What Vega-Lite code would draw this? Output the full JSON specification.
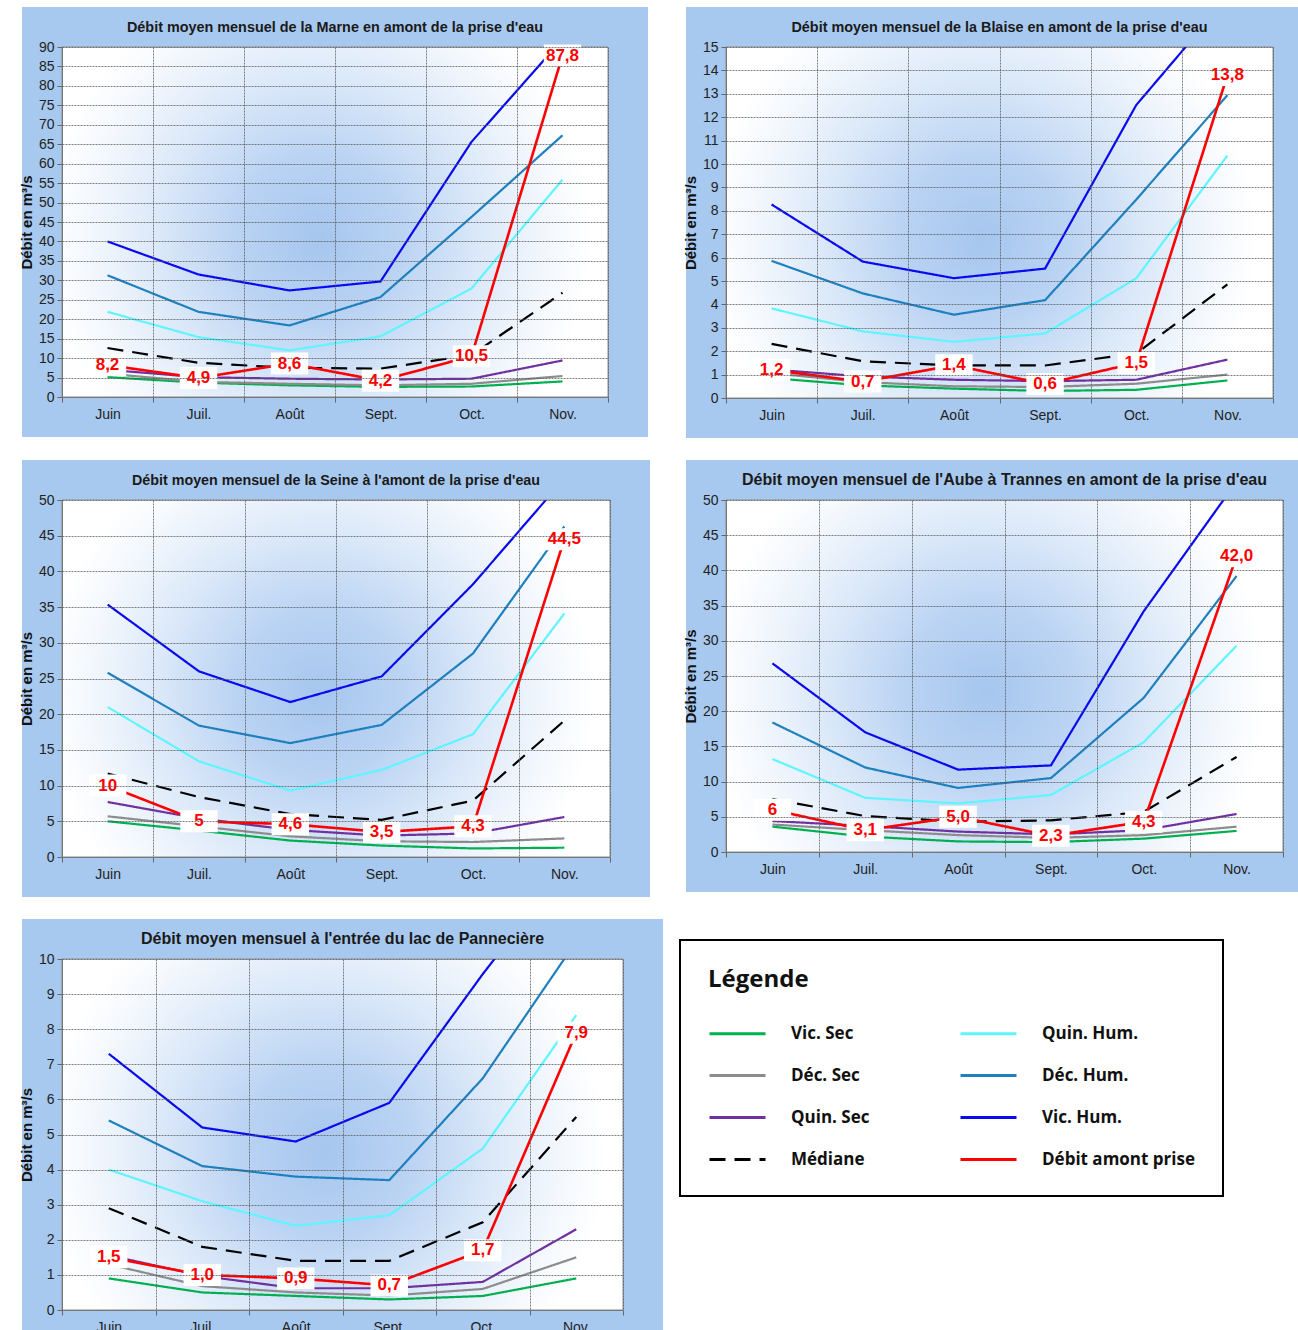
{
"$schema": "https://vega.github.io/schema/vega-lite/v6.json",
"background": "white",
"padding": {"left": -21, "top": -21, "right": 0, "bottom": 0},
"datasets": {
"marne": [
{"m":"Juin","s":"Vic. Sec","v":5.1},{"m":"Juil.","s":"Vic. Sec","v":3.7},{"m":"Août","s":"Vic. Sec","v":3.0},{"m":"Sept.","s":"Vic. Sec","v":2.6},{"m":"Oct.","s":"Vic. Sec","v":2.7},{"m":"Nov.","s":"Vic. Sec","v":4.0},
{"m":"Juin","s":"Déc. Sec","v":6.0},{"m":"Juil.","s":"Déc. Sec","v":3.9},{"m":"Août","s":"Déc. Sec","v":3.4},{"m":"Sept.","s":"Déc. Sec","v":3.0},{"m":"Oct.","s":"Déc. Sec","v":3.4},{"m":"Nov.","s":"Déc. Sec","v":5.4},
{"m":"Juin","s":"Quin. Sec","v":7.0},{"m":"Juil.","s":"Quin. Sec","v":5.1},{"m":"Août","s":"Quin. Sec","v":4.7},{"m":"Sept.","s":"Quin. Sec","v":4.5},{"m":"Oct.","s":"Quin. Sec","v":4.7},{"m":"Nov.","s":"Quin. Sec","v":9.4},
{"m":"Juin","s":"Médiane","v":12.6},{"m":"Juil.","s":"Médiane","v":8.8},{"m":"Août","s":"Médiane","v":7.5},{"m":"Sept.","s":"Médiane","v":7.3},{"m":"Oct.","s":"Médiane","v":10.8},{"m":"Nov.","s":"Médiane","v":26.8},
{"m":"Juin","s":"Quin. Hum.","v":21.9},{"m":"Juil.","s":"Quin. Hum.","v":15.4},{"m":"Août","s":"Quin. Hum.","v":12.0},{"m":"Sept.","s":"Quin. Hum.","v":15.6},{"m":"Oct.","s":"Quin. Hum.","v":27.9},{"m":"Nov.","s":"Quin. Hum.","v":55.9},
{"m":"Juin","s":"Déc. Hum.","v":31.3},{"m":"Juil.","s":"Déc. Hum.","v":21.9},{"m":"Août","s":"Déc. Hum.","v":18.4},{"m":"Sept.","s":"Déc. Hum.","v":25.7},{"m":"Oct.","s":"Déc. Hum.","v":46.3},{"m":"Nov.","s":"Déc. Hum.","v":67.3},
{"m":"Juin","s":"Vic. Hum.","v":40.0},{"m":"Juil.","s":"Vic. Hum.","v":31.5},{"m":"Août","s":"Vic. Hum.","v":27.4},{"m":"Sept.","s":"Vic. Hum.","v":29.7},{"m":"Oct.","s":"Vic. Hum.","v":65.6},{"m":"Nov.","s":"Vic. Hum.","v":92},
{"m":"Juin","s":"Débit amont prise","v":8.2,"lab":"8,2"},{"m":"Juil.","s":"Débit amont prise","v":4.9,"lab":"4,9"},{"m":"Août","s":"Débit amont prise","v":8.6,"lab":"8,6"},{"m":"Sept.","s":"Débit amont prise","v":4.2,"lab":"4,2"},{"m":"Oct.","s":"Débit amont prise","v":10.5,"lab":"10,5"},{"m":"Nov.","s":"Débit amont prise","v":87.8,"lab":"87,8"}
],
"blaise": [
{"m":"Juin","s":"Vic. Sec","v":0.85},{"m":"Juil.","s":"Vic. Sec","v":0.54},{"m":"Août","s":"Vic. Sec","v":0.40},{"m":"Sept.","s":"Vic. Sec","v":0.30},{"m":"Oct.","s":"Vic. Sec","v":0.35},{"m":"Nov.","s":"Vic. Sec","v":0.75},
{"m":"Juin","s":"Déc. Sec","v":1.06},{"m":"Juil.","s":"Déc. Sec","v":0.68},{"m":"Août","s":"Déc. Sec","v":0.50},{"m":"Sept.","s":"Déc. Sec","v":0.47},{"m":"Oct.","s":"Déc. Sec","v":0.61},{"m":"Nov.","s":"Déc. Sec","v":1.0},
{"m":"Juin","s":"Quin. Sec","v":1.22},{"m":"Juil.","s":"Quin. Sec","v":0.92},{"m":"Août","s":"Quin. Sec","v":0.78},{"m":"Sept.","s":"Quin. Sec","v":0.72},{"m":"Oct.","s":"Quin. Sec","v":0.78},{"m":"Nov.","s":"Quin. Sec","v":1.64},
{"m":"Juin","s":"Médiane","v":2.31},{"m":"Juil.","s":"Médiane","v":1.57},{"m":"Août","s":"Médiane","v":1.39},{"m":"Sept.","s":"Médiane","v":1.39},{"m":"Oct.","s":"Médiane","v":1.9},{"m":"Nov.","s":"Médiane","v":4.86},
{"m":"Juin","s":"Quin. Hum.","v":3.83},{"m":"Juil.","s":"Quin. Hum.","v":2.85},{"m":"Août","s":"Quin. Hum.","v":2.40},{"m":"Sept.","s":"Quin. Hum.","v":2.76},{"m":"Oct.","s":"Quin. Hum.","v":5.12},{"m":"Nov.","s":"Quin. Hum.","v":10.36},
{"m":"Juin","s":"Déc. Hum.","v":5.86},{"m":"Juil.","s":"Déc. Hum.","v":4.47},{"m":"Août","s":"Déc. Hum.","v":3.56},{"m":"Sept.","s":"Déc. Hum.","v":4.18},{"m":"Oct.","s":"Déc. Hum.","v":8.48},{"m":"Nov.","s":"Déc. Hum.","v":12.94},
{"m":"Juin","s":"Vic. Hum.","v":8.27},{"m":"Juil.","s":"Vic. Hum.","v":5.83},{"m":"Août","s":"Vic. Hum.","v":5.12},{"m":"Sept.","s":"Vic. Hum.","v":5.53},{"m":"Oct.","s":"Vic. Hum.","v":12.52},{"m":"Nov.","s":"Vic. Hum.","v":17.1},
{"m":"Juin","s":"Débit amont prise","v":1.2,"lab":"1,2"},{"m":"Juil.","s":"Débit amont prise","v":0.7,"lab":"0,7"},{"m":"Août","s":"Débit amont prise","v":1.4,"lab":"1,4"},{"m":"Sept.","s":"Débit amont prise","v":0.6,"lab":"0,6"},{"m":"Oct.","s":"Débit amont prise","v":1.5,"lab":"1,5"},{"m":"Nov.","s":"Débit amont prise","v":13.8,"lab":"13,8"}
],
"seine": [
{"m":"Juin","s":"Vic. Sec","v":5.0},{"m":"Juil.","s":"Vic. Sec","v":3.7},{"m":"Août","s":"Vic. Sec","v":2.3},{"m":"Sept.","s":"Vic. Sec","v":1.6},{"m":"Oct.","s":"Vic. Sec","v":1.2},{"m":"Nov.","s":"Vic. Sec","v":1.3},
{"m":"Juin","s":"Déc. Sec","v":5.7},{"m":"Juil.","s":"Déc. Sec","v":4.3},{"m":"Août","s":"Déc. Sec","v":2.9},{"m":"Sept.","s":"Déc. Sec","v":2.2},{"m":"Oct.","s":"Déc. Sec","v":2.1},{"m":"Nov.","s":"Déc. Sec","v":2.6},
{"m":"Juin","s":"Quin. Sec","v":7.7},{"m":"Juil.","s":"Quin. Sec","v":5.4},{"m":"Août","s":"Quin. Sec","v":3.8},{"m":"Sept.","s":"Quin. Sec","v":3.0},{"m":"Oct.","s":"Quin. Sec","v":3.3},{"m":"Nov.","s":"Quin. Sec","v":5.6},
{"m":"Juin","s":"Médiane","v":11.7},{"m":"Juil.","s":"Médiane","v":8.4},{"m":"Août","s":"Médiane","v":6.0},{"m":"Sept.","s":"Médiane","v":5.2},{"m":"Oct.","s":"Médiane","v":7.9},{"m":"Nov.","s":"Médiane","v":19.1},
{"m":"Juin","s":"Quin. Hum.","v":21.0},{"m":"Juil.","s":"Quin. Hum.","v":13.4},{"m":"Août","s":"Quin. Hum.","v":9.3},{"m":"Sept.","s":"Quin. Hum.","v":12.2},{"m":"Oct.","s":"Quin. Hum.","v":17.2},{"m":"Nov.","s":"Quin. Hum.","v":34.1},
{"m":"Juin","s":"Déc. Hum.","v":25.8},{"m":"Juil.","s":"Déc. Hum.","v":18.4},{"m":"Août","s":"Déc. Hum.","v":15.95},{"m":"Sept.","s":"Déc. Hum.","v":18.5},{"m":"Oct.","s":"Déc. Hum.","v":28.5},{"m":"Nov.","s":"Déc. Hum.","v":46.3},
{"m":"Juin","s":"Vic. Hum.","v":35.35},{"m":"Juil.","s":"Vic. Hum.","v":26.0},{"m":"Août","s":"Vic. Hum.","v":21.7},{"m":"Sept.","s":"Vic. Hum.","v":25.3},{"m":"Oct.","s":"Vic. Hum.","v":38.2},{"m":"Nov.","s":"Vic. Hum.","v":53},
{"m":"Juin","s":"Débit amont prise","v":10,"lab":"10"},{"m":"Juil.","s":"Débit amont prise","v":5,"lab":"5"},{"m":"Août","s":"Débit amont prise","v":4.6,"lab":"4,6"},{"m":"Sept.","s":"Débit amont prise","v":3.5,"lab":"3,5"},{"m":"Oct.","s":"Débit amont prise","v":4.3,"lab":"4,3"},{"m":"Nov.","s":"Débit amont prise","v":44.5,"lab":"44,5"}
],
"aube": [
{"m":"Juin","s":"Vic. Sec","v":3.6},{"m":"Juil.","s":"Vic. Sec","v":2.2},{"m":"Août","s":"Vic. Sec","v":1.5},{"m":"Sept.","s":"Vic. Sec","v":1.4},{"m":"Oct.","s":"Vic. Sec","v":1.9},{"m":"Nov.","s":"Vic. Sec","v":3.0},
{"m":"Juin","s":"Déc. Sec","v":3.9},{"m":"Juil.","s":"Déc. Sec","v":3.1},{"m":"Août","s":"Déc. Sec","v":2.4},{"m":"Sept.","s":"Déc. Sec","v":2.0},{"m":"Oct.","s":"Déc. Sec","v":2.4},{"m":"Nov.","s":"Déc. Sec","v":3.6},
{"m":"Juin","s":"Quin. Sec","v":4.4},{"m":"Juil.","s":"Quin. Sec","v":3.7},{"m":"Août","s":"Quin. Sec","v":2.9},{"m":"Sept.","s":"Quin. Sec","v":2.5},{"m":"Oct.","s":"Quin. Sec","v":3.1},{"m":"Nov.","s":"Quin. Sec","v":5.4},
{"m":"Juin","s":"Médiane","v":7.5},{"m":"Juil.","s":"Médiane","v":5.1},{"m":"Août","s":"Médiane","v":4.3},{"m":"Sept.","s":"Médiane","v":4.5},{"m":"Oct.","s":"Médiane","v":5.7},{"m":"Nov.","s":"Médiane","v":13.5},
{"m":"Juin","s":"Quin. Hum.","v":13.2},{"m":"Juil.","s":"Quin. Hum.","v":7.7},{"m":"Août","s":"Quin. Hum.","v":6.9},{"m":"Sept.","s":"Quin. Hum.","v":8.1},{"m":"Oct.","s":"Quin. Hum.","v":15.6},{"m":"Nov.","s":"Quin. Hum.","v":29.3},
{"m":"Juin","s":"Déc. Hum.","v":18.4},{"m":"Juil.","s":"Déc. Hum.","v":12.0},{"m":"Août","s":"Déc. Hum.","v":9.1},{"m":"Sept.","s":"Déc. Hum.","v":10.5},{"m":"Oct.","s":"Déc. Hum.","v":21.9},{"m":"Nov.","s":"Déc. Hum.","v":39.2},
{"m":"Juin","s":"Vic. Hum.","v":26.8},{"m":"Juil.","s":"Vic. Hum.","v":17.0},{"m":"Août","s":"Vic. Hum.","v":11.7},{"m":"Sept.","s":"Vic. Hum.","v":12.3},{"m":"Oct.","s":"Vic. Hum.","v":34.2},{"m":"Nov.","s":"Vic. Hum.","v":52.6},
{"m":"Juin","s":"Débit amont prise","v":6,"lab":"6"},{"m":"Juil.","s":"Débit amont prise","v":3.1,"lab":"3,1"},{"m":"Août","s":"Débit amont prise","v":5.0,"lab":"5,0"},{"m":"Sept.","s":"Débit amont prise","v":2.3,"lab":"2,3"},{"m":"Oct.","s":"Débit amont prise","v":4.3,"lab":"4,3"},{"m":"Nov.","s":"Débit amont prise","v":42.0,"lab":"42,0"}
],
"pan": [
{"m":"Juin","s":"Vic. Sec","v":0.9},{"m":"Juil.","s":"Vic. Sec","v":0.5},{"m":"Août","s":"Vic. Sec","v":0.4},{"m":"Sept.","s":"Vic. Sec","v":0.3},{"m":"Oct.","s":"Vic. Sec","v":0.4},{"m":"Nov.","s":"Vic. Sec","v":0.9},
{"m":"Juin","s":"Déc. Sec","v":1.3},{"m":"Juil.","s":"Déc. Sec","v":0.68},{"m":"Août","s":"Déc. Sec","v":0.5},{"m":"Sept.","s":"Déc. Sec","v":0.41},{"m":"Oct.","s":"Déc. Sec","v":0.6},{"m":"Nov.","s":"Déc. Sec","v":1.5},
{"m":"Juin","s":"Quin. Sec","v":1.56},{"m":"Juil.","s":"Quin. Sec","v":0.97},{"m":"Août","s":"Quin. Sec","v":0.62},{"m":"Sept.","s":"Quin. Sec","v":0.62},{"m":"Oct.","s":"Quin. Sec","v":0.8},{"m":"Nov.","s":"Quin. Sec","v":2.3},
{"m":"Juin","s":"Médiane","v":2.9},{"m":"Juil.","s":"Médiane","v":1.8},{"m":"Août","s":"Médiane","v":1.4},{"m":"Sept.","s":"Médiane","v":1.4},{"m":"Oct.","s":"Médiane","v":2.5},{"m":"Nov.","s":"Médiane","v":5.5},
{"m":"Juin","s":"Quin. Hum.","v":4.0},{"m":"Juil.","s":"Quin. Hum.","v":3.1},{"m":"Août","s":"Quin. Hum.","v":2.4},{"m":"Sept.","s":"Quin. Hum.","v":2.7},{"m":"Oct.","s":"Quin. Hum.","v":4.6},{"m":"Nov.","s":"Quin. Hum.","v":8.4},
{"m":"Juin","s":"Déc. Hum.","v":5.4},{"m":"Juil.","s":"Déc. Hum.","v":4.1},{"m":"Août","s":"Déc. Hum.","v":3.8},{"m":"Sept.","s":"Déc. Hum.","v":3.7},{"m":"Oct.","s":"Déc. Hum.","v":6.6},{"m":"Nov.","s":"Déc. Hum.","v":10.5},
{"m":"Juin","s":"Vic. Hum.","v":7.3},{"m":"Juil.","s":"Vic. Hum.","v":5.2},{"m":"Août","s":"Vic. Hum.","v":4.8},{"m":"Sept.","s":"Vic. Hum.","v":5.9},{"m":"Oct.","s":"Vic. Hum.","v":9.57},{"m":"Nov.","s":"Vic. Hum.","v":13},
{"m":"Juin","s":"Débit amont prise","v":1.5,"lab":"1,5"},{"m":"Juil.","s":"Débit amont prise","v":1.0,"lab":"1,0"},{"m":"Août","s":"Débit amont prise","v":0.9,"lab":"0,9"},{"m":"Sept.","s":"Débit amont prise","v":0.7,"lab":"0,7"},{"m":"Oct.","s":"Débit amont prise","v":1.7,"lab":"1,7"},{"m":"Nov.","s":"Débit amont prise","v":7.9,"lab":"7,9"}
]
},
"columns": 2,
"bounds": "flush",
"align": "each",
"spacing": {"row": 102, "column": 103},
"concat": [
{
"width": 546, "height": 350,
"title": {"text": "Débit moyen mensuel de la Marne en amont de la prise d'eau", "fontSize": 14.4},
"layer": [
{"data": {"values": [{}]}, "mark": {"type": "rect", "stroke": "#8a8a8a", "strokeWidth": 1, "fill": {"gradient": "radial", "x1": 0.47, "y1": 0.53, "r1": 0, "x2": 0.47, "y2": 0.53, "r2": 0.5, "stops": [{"offset": 0, "color": "#a6c6ee"}, {"offset": 0.3, "color": "#bad3f3"}, {"offset": 0.6, "color": "#dce9f9"}, {"offset": 0.85, "color": "#f4f8fd"}, {"offset": 1, "color": "#ffffff"}]}}, "encoding": {}},
{"data": {"name": "marne"},
"encoding": {
"x": {"field": "m", "type": "ordinal", "sort": ["Juin","Juil.","Août","Sept.","Oct.","Nov."], "scale": {"type": "band", "paddingInner": 0, "paddingOuter": 0}, "axis": {"title": null, "tickBand": "extent", "grid": true, "labelAngle": 0, "zindex": 1}},
"y": {"field": "v", "type": "quantitative", "scale": {"domain": [0, 90], "nice": false}, "axis": {"title": "Débit en m³/s", "zindex": 1, "values": [0,5,10,15,20,25,30,35,40,45,50,55,60,65,70,75,80,85,90]}}
},
"layer": [
{"transform": [{"filter": "datum.s !== 'Débit amont prise'"}], "mark": {"type": "line", "clip": true, "strokeWidth": 2.2},
"encoding": {"color": {"field": "s", "type": "nominal", "title": "Légende", "scale": {"domain": ["Vic. Sec","Déc. Sec","Quin. Sec","Médiane","Quin. Hum.","Déc. Hum.","Vic. Hum.","Débit amont prise"], "range": ["#00b050","#8c8c8c","#7030a0","#000000","#5ff5ff","#1f80c0","#0a0af0","#ff0000"]}},
"strokeDash": {"field": "s", "type": "nominal", "title": "Légende", "scale": {"domain": ["Vic. Sec","Déc. Sec","Quin. Sec","Médiane","Quin. Hum.","Déc. Hum.","Vic. Hum.","Débit amont prise"], "range": [[1,0],[1,0],[1,0],[16,9],[1,0],[1,0],[1,0],[1,0]]}}}},
{"transform": [{"filter": "datum.s === 'Débit amont prise'"}], "mark": {"type": "line", "clip": true, "strokeWidth": 2.6},
"encoding": {"color": {"field": "s", "type": "nominal", "title": "Légende", "scale": {"domain": ["Vic. Sec","Déc. Sec","Quin. Sec","Médiane","Quin. Hum.","Déc. Hum.","Vic. Hum.","Débit amont prise"], "range": ["#00b050","#8c8c8c","#7030a0","#000000","#5ff5ff","#1f80c0","#0a0af0","#ff0000"]}},
"strokeDash": {"field": "s", "type": "nominal", "title": "Légende", "scale": {"domain": ["Vic. Sec","Déc. Sec","Quin. Sec","Médiane","Quin. Hum.","Déc. Hum.","Vic. Hum.","Débit amont prise"], "range": [[1,0],[1,0],[1,0],[16,9],[1,0],[1,0],[1,0],[1,0]]}}}},
{"transform": [{"filter": "datum.s === 'Débit amont prise'"}], "mark": {"type": "point", "shape": "M-1.7,-1H1.7V1H-1.7Z", "filled": true, "fill": "white", "opacity": 1, "size": 484, "strokeWidth": 0}},
{"transform": [{"filter": "datum.s === 'Débit amont prise'"}], "mark": {"type": "text", "font": "Liberation Sans", "fontSize": 17, "fontWeight": "bold", "color": "#ff0000"}, "encoding": {"text": {"field": "lab"}}}
]}
]
},
{
"width": 547, "height": 351,
"title": {"text": "Débit moyen mensuel de la Blaise en amont de la prise d'eau", "fontSize": 14.4},
"layer": [
{"data": {"values": [{}]}, "mark": {"type": "rect", "stroke": "#8a8a8a", "strokeWidth": 1, "fill": {"gradient": "radial", "x1": 0.47, "y1": 0.53, "r1": 0, "x2": 0.47, "y2": 0.53, "r2": 0.5, "stops": [{"offset": 0, "color": "#a6c6ee"}, {"offset": 0.3, "color": "#bad3f3"}, {"offset": 0.6, "color": "#dce9f9"}, {"offset": 0.85, "color": "#f4f8fd"}, {"offset": 1, "color": "#ffffff"}]}}, "encoding": {}},
{"data": {"name": "blaise"},
"encoding": {
"x": {"field": "m", "type": "ordinal", "sort": ["Juin","Juil.","Août","Sept.","Oct.","Nov."], "scale": {"type": "band", "paddingInner": 0, "paddingOuter": 0}, "axis": {"title": null, "tickBand": "extent", "grid": true, "labelAngle": 0, "zindex": 1}},
"y": {"field": "v", "type": "quantitative", "scale": {"domain": [0, 15], "nice": false}, "axis": {"title": "Débit en m³/s", "zindex": 1, "values": [0,1,2,3,4,5,6,7,8,9,10,11,12,13,14,15]}}
},
"layer": [
{"transform": [{"filter": "datum.s !== 'Débit amont prise'"}], "mark": {"type": "line", "clip": true, "strokeWidth": 2.2},
"encoding": {"color": {"field": "s", "type": "nominal", "title": "Légende", "scale": {"domain": ["Vic. Sec","Déc. Sec","Quin. Sec","Médiane","Quin. Hum.","Déc. Hum.","Vic. Hum.","Débit amont prise"], "range": ["#00b050","#8c8c8c","#7030a0","#000000","#5ff5ff","#1f80c0","#0a0af0","#ff0000"]}},
"strokeDash": {"field": "s", "type": "nominal", "title": "Légende", "scale": {"domain": ["Vic. Sec","Déc. Sec","Quin. Sec","Médiane","Quin. Hum.","Déc. Hum.","Vic. Hum.","Débit amont prise"], "range": [[1,0],[1,0],[1,0],[16,9],[1,0],[1,0],[1,0],[1,0]]}}}},
{"transform": [{"filter": "datum.s === 'Débit amont prise'"}], "mark": {"type": "line", "clip": true, "strokeWidth": 2.6},
"encoding": {"color": {"field": "s", "type": "nominal", "title": "Légende", "scale": {"domain": ["Vic. Sec","Déc. Sec","Quin. Sec","Médiane","Quin. Hum.","Déc. Hum.","Vic. Hum.","Débit amont prise"], "range": ["#00b050","#8c8c8c","#7030a0","#000000","#5ff5ff","#1f80c0","#0a0af0","#ff0000"]}},
"strokeDash": {"field": "s", "type": "nominal", "title": "Légende", "scale": {"domain": ["Vic. Sec","Déc. Sec","Quin. Sec","Médiane","Quin. Hum.","Déc. Hum.","Vic. Hum.","Débit amont prise"], "range": [[1,0],[1,0],[1,0],[16,9],[1,0],[1,0],[1,0],[1,0]]}}}},
{"transform": [{"filter": "datum.s === 'Débit amont prise'"}], "mark": {"type": "point", "shape": "M-1.7,-1H1.7V1H-1.7Z", "filled": true, "fill": "white", "opacity": 1, "size": 484, "strokeWidth": 0}},
{"transform": [{"filter": "datum.s === 'Débit amont prise'"}], "mark": {"type": "text", "font": "Liberation Sans", "fontSize": 17, "fontWeight": "bold", "color": "#ff0000"}, "encoding": {"text": {"field": "lab"}}}
]}
]
},
{
"width": 548, "height": 357,
"title": {"text": "Débit moyen mensuel de la Seine à l'amont de la prise d'eau", "fontSize": 14.3},
"layer": [
{"data": {"values": [{}]}, "mark": {"type": "rect", "stroke": "#8a8a8a", "strokeWidth": 1, "fill": {"gradient": "radial", "x1": 0.47, "y1": 0.53, "r1": 0, "x2": 0.47, "y2": 0.53, "r2": 0.5, "stops": [{"offset": 0, "color": "#a6c6ee"}, {"offset": 0.3, "color": "#bad3f3"}, {"offset": 0.6, "color": "#dce9f9"}, {"offset": 0.85, "color": "#f4f8fd"}, {"offset": 1, "color": "#ffffff"}]}}, "encoding": {}},
{"data": {"name": "seine"},
"encoding": {
"x": {"field": "m", "type": "ordinal", "sort": ["Juin","Juil.","Août","Sept.","Oct.","Nov."], "scale": {"type": "band", "paddingInner": 0, "paddingOuter": 0}, "axis": {"title": null, "tickBand": "extent", "grid": true, "labelAngle": 0, "zindex": 1}},
"y": {"field": "v", "type": "quantitative", "scale": {"domain": [0, 50], "nice": false}, "axis": {"title": "Débit en m³/s", "zindex": 1, "values": [0,5,10,15,20,25,30,35,40,45,50]}}
},
"layer": [
{"transform": [{"filter": "datum.s !== 'Débit amont prise'"}], "mark": {"type": "line", "clip": true, "strokeWidth": 2.2},
"encoding": {"color": {"field": "s", "type": "nominal", "title": "Légende", "scale": {"domain": ["Vic. Sec","Déc. Sec","Quin. Sec","Médiane","Quin. Hum.","Déc. Hum.","Vic. Hum.","Débit amont prise"], "range": ["#00b050","#8c8c8c","#7030a0","#000000","#5ff5ff","#1f80c0","#0a0af0","#ff0000"]}},
"strokeDash": {"field": "s", "type": "nominal", "title": "Légende", "scale": {"domain": ["Vic. Sec","Déc. Sec","Quin. Sec","Médiane","Quin. Hum.","Déc. Hum.","Vic. Hum.","Débit amont prise"], "range": [[1,0],[1,0],[1,0],[16,9],[1,0],[1,0],[1,0],[1,0]]}}}},
{"transform": [{"filter": "datum.s === 'Débit amont prise'"}], "mark": {"type": "line", "clip": true, "strokeWidth": 2.6},
"encoding": {"color": {"field": "s", "type": "nominal", "title": "Légende", "scale": {"domain": ["Vic. Sec","Déc. Sec","Quin. Sec","Médiane","Quin. Hum.","Déc. Hum.","Vic. Hum.","Débit amont prise"], "range": ["#00b050","#8c8c8c","#7030a0","#000000","#5ff5ff","#1f80c0","#0a0af0","#ff0000"]}},
"strokeDash": {"field": "s", "type": "nominal", "title": "Légende", "scale": {"domain": ["Vic. Sec","Déc. Sec","Quin. Sec","Médiane","Quin. Hum.","Déc. Hum.","Vic. Hum.","Débit amont prise"], "range": [[1,0],[1,0],[1,0],[16,9],[1,0],[1,0],[1,0],[1,0]]}}}},
{"transform": [{"filter": "datum.s === 'Débit amont prise'"}], "mark": {"type": "point", "shape": "M-1.7,-1H1.7V1H-1.7Z", "filled": true, "fill": "white", "opacity": 1, "size": 484, "strokeWidth": 0}},
{"transform": [{"filter": "datum.s === 'Débit amont prise'"}], "mark": {"type": "text", "font": "Liberation Sans", "fontSize": 17, "fontWeight": "bold", "color": "#ff0000"}, "encoding": {"text": {"field": "lab"}}}
]}
]
},
{
"width": 557, "height": 352,
"title": {"text": "Débit moyen mensuel  de l'Aube à Trannes en amont de la prise d'eau", "fontSize": 16},
"layer": [
{"data": {"values": [{}]}, "mark": {"type": "rect", "stroke": "#8a8a8a", "strokeWidth": 1, "fill": {"gradient": "radial", "x1": 0.47, "y1": 0.53, "r1": 0, "x2": 0.47, "y2": 0.53, "r2": 0.5, "stops": [{"offset": 0, "color": "#a6c6ee"}, {"offset": 0.3, "color": "#bad3f3"}, {"offset": 0.6, "color": "#dce9f9"}, {"offset": 0.85, "color": "#f4f8fd"}, {"offset": 1, "color": "#ffffff"}]}}, "encoding": {}},
{"data": {"name": "aube"},
"encoding": {
"x": {"field": "m", "type": "ordinal", "sort": ["Juin","Juil.","Août","Sept.","Oct.","Nov."], "scale": {"type": "band", "paddingInner": 0, "paddingOuter": 0}, "axis": {"title": null, "tickBand": "extent", "grid": true, "labelAngle": 0, "zindex": 1}},
"y": {"field": "v", "type": "quantitative", "scale": {"domain": [0, 50], "nice": false}, "axis": {"title": "Débit en m³/s", "zindex": 1, "values": [0,5,10,15,20,25,30,35,40,45,50]}}
},
"layer": [
{"transform": [{"filter": "datum.s !== 'Débit amont prise'"}], "mark": {"type": "line", "clip": true, "strokeWidth": 2.2},
"encoding": {"color": {"field": "s", "type": "nominal", "title": "Légende", "scale": {"domain": ["Vic. Sec","Déc. Sec","Quin. Sec","Médiane","Quin. Hum.","Déc. Hum.","Vic. Hum.","Débit amont prise"], "range": ["#00b050","#8c8c8c","#7030a0","#000000","#5ff5ff","#1f80c0","#0a0af0","#ff0000"]}},
"strokeDash": {"field": "s", "type": "nominal", "title": "Légende", "scale": {"domain": ["Vic. Sec","Déc. Sec","Quin. Sec","Médiane","Quin. Hum.","Déc. Hum.","Vic. Hum.","Débit amont prise"], "range": [[1,0],[1,0],[1,0],[16,9],[1,0],[1,0],[1,0],[1,0]]}}}},
{"transform": [{"filter": "datum.s === 'Débit amont prise'"}], "mark": {"type": "line", "clip": true, "strokeWidth": 2.6},
"encoding": {"color": {"field": "s", "type": "nominal", "title": "Légende", "scale": {"domain": ["Vic. Sec","Déc. Sec","Quin. Sec","Médiane","Quin. Hum.","Déc. Hum.","Vic. Hum.","Débit amont prise"], "range": ["#00b050","#8c8c8c","#7030a0","#000000","#5ff5ff","#1f80c0","#0a0af0","#ff0000"]}},
"strokeDash": {"field": "s", "type": "nominal", "title": "Légende", "scale": {"domain": ["Vic. Sec","Déc. Sec","Quin. Sec","Médiane","Quin. Hum.","Déc. Hum.","Vic. Hum.","Débit amont prise"], "range": [[1,0],[1,0],[1,0],[16,9],[1,0],[1,0],[1,0],[1,0]]}}}},
{"transform": [{"filter": "datum.s === 'Débit amont prise'"}], "mark": {"type": "point", "shape": "M-1.7,-1H1.7V1H-1.7Z", "filled": true, "fill": "white", "opacity": 1, "size": 484, "strokeWidth": 0}},
{"transform": [{"filter": "datum.s === 'Débit amont prise'"}], "mark": {"type": "text", "font": "Liberation Sans", "fontSize": 17, "fontWeight": "bold", "color": "#ff0000"}, "encoding": {"text": {"field": "lab"}}}
]}
]
},
{
"width": 561, "height": 351,
"title": {"text": "Débit moyen mensuel  à l'entrée du lac de Pannecière", "fontSize": 16},
"layer": [
{"data": {"values": [{}]}, "mark": {"type": "rect", "stroke": "#8a8a8a", "strokeWidth": 1, "fill": {"gradient": "radial", "x1": 0.47, "y1": 0.53, "r1": 0, "x2": 0.47, "y2": 0.53, "r2": 0.5, "stops": [{"offset": 0, "color": "#a6c6ee"}, {"offset": 0.3, "color": "#bad3f3"}, {"offset": 0.6, "color": "#dce9f9"}, {"offset": 0.85, "color": "#f4f8fd"}, {"offset": 1, "color": "#ffffff"}]}}, "encoding": {}},
{"data": {"name": "pan"},
"encoding": {
"x": {"field": "m", "type": "ordinal", "sort": ["Juin","Juil.","Août","Sept.","Oct.","Nov."], "scale": {"type": "band", "paddingInner": 0, "paddingOuter": 0}, "axis": {"title": null, "tickBand": "extent", "grid": true, "labelAngle": 0, "zindex": 1}},
"y": {"field": "v", "type": "quantitative", "scale": {"domain": [0, 10], "nice": false}, "axis": {"title": "Débit en m³/s", "zindex": 1, "values": [0,1,2,3,4,5,6,7,8,9,10]}}
},
"layer": [
{"transform": [{"filter": "datum.s !== 'Débit amont prise'"}], "mark": {"type": "line", "clip": true, "strokeWidth": 2.2},
"encoding": {"color": {"field": "s", "type": "nominal", "title": "Légende", "scale": {"domain": ["Vic. Sec","Déc. Sec","Quin. Sec","Médiane","Quin. Hum.","Déc. Hum.","Vic. Hum.","Débit amont prise"], "range": ["#00b050","#8c8c8c","#7030a0","#000000","#5ff5ff","#1f80c0","#0a0af0","#ff0000"]}},
"strokeDash": {"field": "s", "type": "nominal", "title": "Légende", "scale": {"domain": ["Vic. Sec","Déc. Sec","Quin. Sec","Médiane","Quin. Hum.","Déc. Hum.","Vic. Hum.","Débit amont prise"], "range": [[1,0],[1,0],[1,0],[16,9],[1,0],[1,0],[1,0],[1,0]]}}}},
{"transform": [{"filter": "datum.s === 'Débit amont prise'"}], "mark": {"type": "line", "clip": true, "strokeWidth": 2.6},
"encoding": {"color": {"field": "s", "type": "nominal", "title": "Légende", "scale": {"domain": ["Vic. Sec","Déc. Sec","Quin. Sec","Médiane","Quin. Hum.","Déc. Hum.","Vic. Hum.","Débit amont prise"], "range": ["#00b050","#8c8c8c","#7030a0","#000000","#5ff5ff","#1f80c0","#0a0af0","#ff0000"]}},
"strokeDash": {"field": "s", "type": "nominal", "title": "Légende", "scale": {"domain": ["Vic. Sec","Déc. Sec","Quin. Sec","Médiane","Quin. Hum.","Déc. Hum.","Vic. Hum.","Débit amont prise"], "range": [[1,0],[1,0],[1,0],[16,9],[1,0],[1,0],[1,0],[1,0]]}}}},
{"transform": [{"filter": "datum.s === 'Débit amont prise'"}], "mark": {"type": "point", "shape": "M-1.7,-1H1.7V1H-1.7Z", "filled": true, "fill": "white", "opacity": 1, "size": 484, "strokeWidth": 0}},
{"transform": [{"filter": "datum.s === 'Débit amont prise'"}], "mark": {"type": "text", "font": "Liberation Sans", "fontSize": 17, "fontWeight": "bold", "color": "#ff0000"}, "encoding": {"text": {"field": "lab"}}}
]}
]
}
],
"config": {
"font": "Liberation Sans",
"view": {"stroke": "#a8c9ef", "strokeWidth": 80, "fill": null},
"axis": {"labelFont": "Liberation Sans", "labelFontSize": 14, "labelColor": "#222", "domainColor": "#777", "tickColor": "#666", "tickSize": 5, "gridColor": "#555", "gridDash": [2, 1], "gridOpacity": 0.75, "titleFont": "Liberation Sans", "titleFontSize": 15, "titleFontWeight": "bold", "titleColor": "#111"},
"axisX": {"labelPadding": 5},
"axisY": {"labelPadding": 3},
"title": {"font": "Liberation Sans", "fontWeight": "bold", "color": "#1a1a1a", "offset": 5, "anchor": "middle"},
"legend": {"orient": "none", "legendX": 618, "legendY": 893, "columns": 2, "symbolType": "stroke", "symbolSize": 3136, "symbolStrokeWidth": 3, "labelFont": "Open Sans", "labelFontSize": 17, "labelFontWeight": "bold", "labelColor": "#111", "labelOffset": 24, "labelLimit": 300, "titleFont": "Open Sans", "titleFontSize": 24, "titleFontWeight": "bold", "titleColor": "#111", "titlePadding": 12, "strokeColor": "#000", "strokeWidth": 2, "padding": 28, "columnPadding": 84, "rowPadding": 4}
}
}
